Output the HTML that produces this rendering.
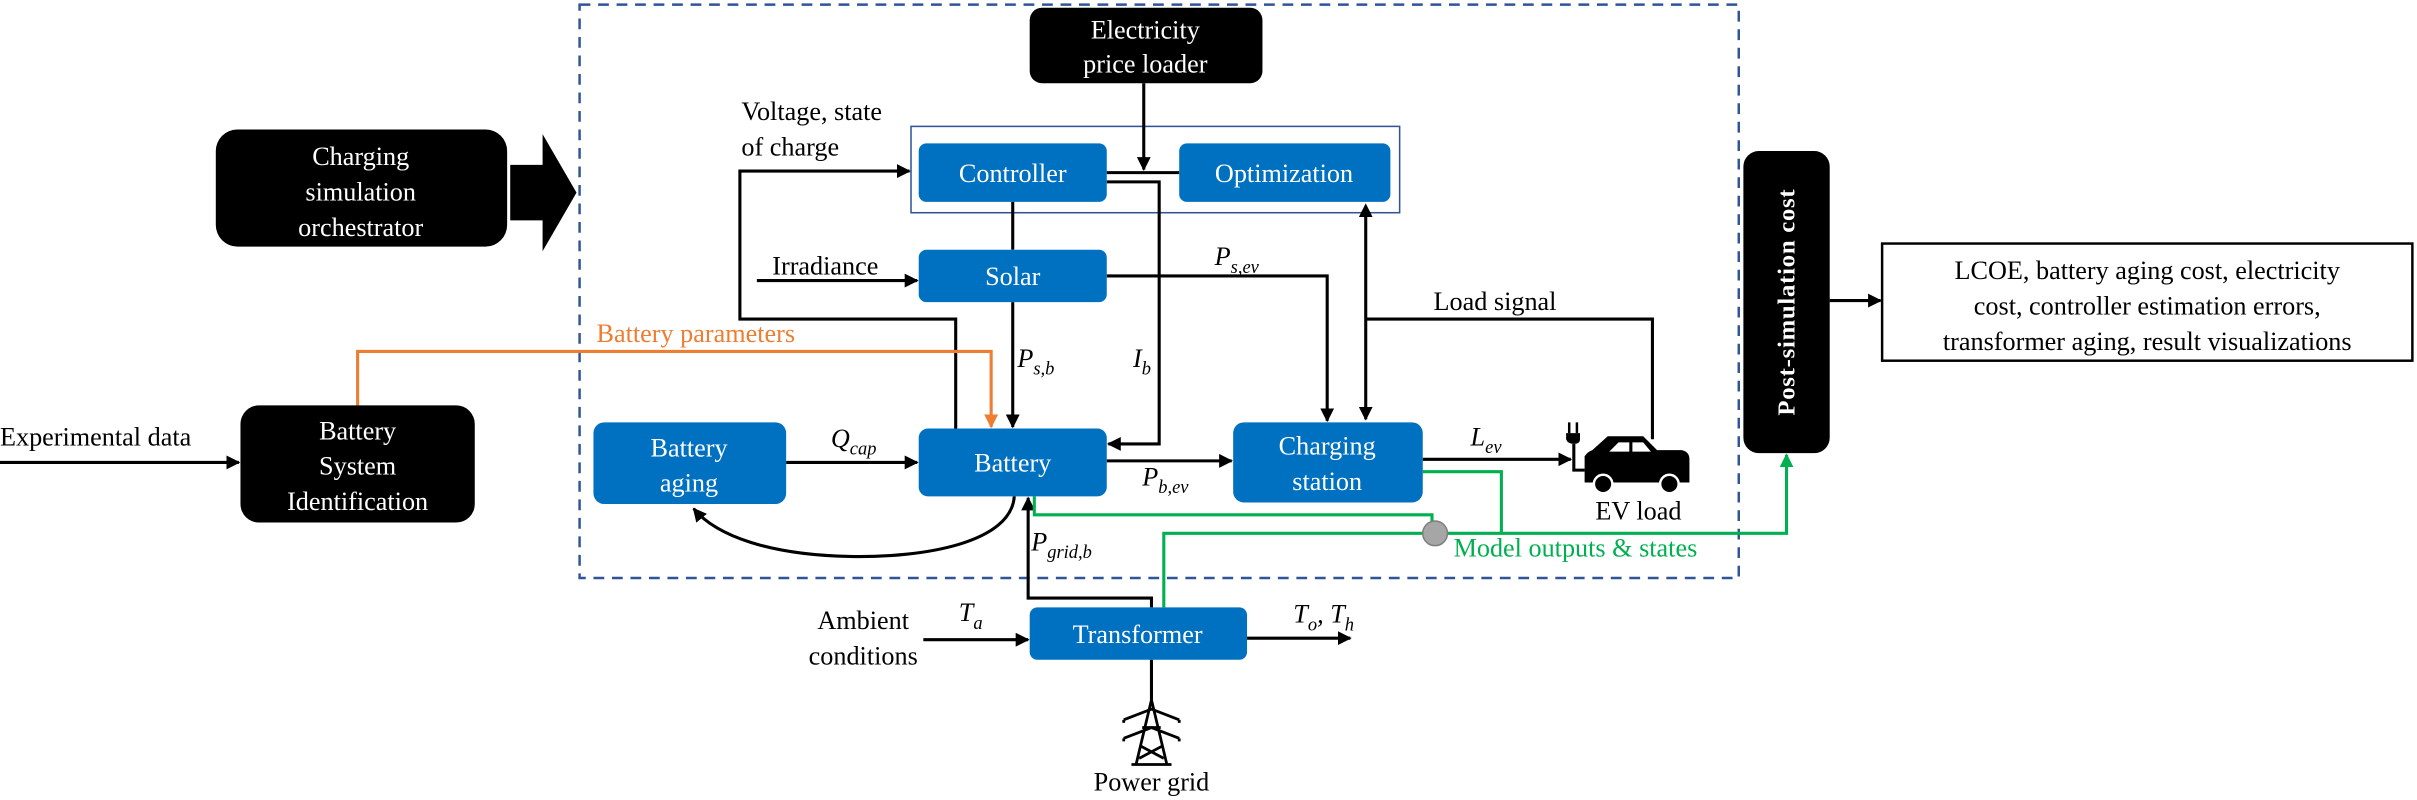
<!DOCTYPE html>
<html><head><meta charset="utf-8"><style>
html,body{margin:0;padding:0;background:#fff;}
svg{display:block;}
svg text{font-family:"Liberation Serif","Noto Serif CJK SC","DejaVu Serif",serif;}
</style></head><body>
<svg width="2417" height="800" viewBox="0 0 1568 519" preserveAspectRatio="none" xmlns="http://www.w3.org/2000/svg">
<defs>
<marker id="a" viewBox="0 0 10 10" refX="9" refY="5" markerWidth="9" markerHeight="9" markerUnits="userSpaceOnUse" orient="auto"><path d="M0,0L10,5L0,10z" fill="#000"/></marker>
<marker id="ao" viewBox="0 0 10 10" refX="9" refY="5" markerWidth="9" markerHeight="9" markerUnits="userSpaceOnUse" orient="auto"><path d="M0,0L10,5L0,10z" fill="#ED7D31"/></marker>
<marker id="ag" viewBox="0 0 10 10" refX="9" refY="5" markerWidth="9" markerHeight="9" markerUnits="userSpaceOnUse" orient="auto"><path d="M0,0L10,5L0,10z" fill="#00B050"/></marker>
<marker id="as" viewBox="0 0 10 10" refX="1" refY="5" markerWidth="9" markerHeight="9" markerUnits="userSpaceOnUse" orient="auto-start-reverse"><path d="M0,0L10,5L0,10z" fill="#000"/></marker>
</defs>
<rect x="376" y="3" width="752" height="372" fill="none" stroke="#2F5597" stroke-width="1.6" stroke-dasharray="7,5"/>
<rect x="591" y="82" width="317" height="56" fill="none" stroke="#2F5597" stroke-width="1"/>

<g stroke="#000" stroke-width="2" fill="none">
<path d="M742 54V110" marker-end="url(#a)"/>
<path d="M718 112H765"/>
<path d="M718 118H752V288H719" marker-end="url(#a)"/>
<path d="M657 131V162"/>
<path d="M657 196V277" marker-end="url(#a)"/>
<path d="M620 278V207H480V111H590" marker-end="url(#a)"/>
<path d="M491 182H595" marker-end="url(#a)"/>
<path d="M0 300H155" marker-end="url(#a)"/>
<path d="M510 300H595" marker-end="url(#a)"/>
<path d="M658 322C656 352 600 362 551 361C500 360 465 348 450 330" marker-end="url(#a)"/>
<path d="M747 394V388H667V323" marker-end="url(#a)"/>
<path d="M718 179H861V273" marker-end="url(#a)"/>
<path d="M886 140V272" marker-start="url(#as)" marker-end="url(#a)"/>
<path d="M886 207H1072V285"/>
<path d="M718 299H799" marker-end="url(#a)"/>
<path d="M923 298H1019" marker-end="url(#a)"/>
<path d="M1187 195H1220" marker-end="url(#a)"/>
<path d="M599 415H667" marker-end="url(#a)"/>
<path d="M809 414H876" marker-end="url(#a)"/>
<path d="M747 428V454"/>
</g>
<path d="M232 263V228H643V277" stroke="#ED7D31" stroke-width="2" fill="none" marker-end="url(#ao)"/>
<g stroke="#00B050" stroke-width="2" fill="none">
<path d="M671 322V334H929V342"/>
<path d="M755 394V346H1159V295" marker-end="url(#ag)"/>
<path d="M923 306H974V346"/>
</g>
<circle cx="931" cy="346" r="8" fill="#A6A6A6" stroke="#7F7F7F" stroke-width="1"/>

<rect x="668" y="5" width="151" height="49" rx="8" fill="#000"/>
<text x="743" y="25" font-size="17" fill="#fff" text-anchor="middle">Electricity</text>
<text x="743" y="47" font-size="17" fill="#fff" text-anchor="middle">price loader</text>
<rect x="140" y="84" width="189" height="76" rx="14" fill="#000"/>
<g font-size="17" fill="#fff" text-anchor="middle">
<text x="234" y="107">Charging</text>
<text x="234" y="130">simulation</text>
<text x="234" y="153">orchestrator</text>
</g>
<path d="M331 107H352V87L374 125L352 163V143H331Z" fill="#000"/>
<rect x="156" y="263" width="152" height="76" rx="12" fill="#000"/>
<g font-size="17" fill="#fff" text-anchor="middle">
<text x="232" y="285">Battery</text>
<text x="232" y="308">System</text>
<text x="232" y="331">Identification</text>
</g>
<rect x="1131" y="98" width="56" height="196" rx="10" fill="#000"/>
<text transform="translate(1164,196) rotate(-90)" font-size="16" font-weight="bold" fill="#fff" text-anchor="middle" letter-spacing="0.5">Post-simulation cost</text>
<rect x="1221" y="158" width="344" height="76" fill="#fff" stroke="#000" stroke-width="1.6"/>
<g font-size="17" text-anchor="middle">
<text x="1393" y="181">LCOE, battery aging cost, electricity</text>
<text x="1393" y="204">cost, controller estimation errors,</text>
<text x="1393" y="227">transformer aging, result visualizations</text>
</g>

<g fill="#0070C0">
<rect x="596" y="93" width="122" height="38" rx="5"/>
<rect x="765" y="93" width="137" height="38" rx="5"/>
<rect x="596" y="162" width="122" height="34" rx="5"/>
<rect x="596" y="278" width="122" height="44" rx="6"/>
<rect x="385" y="274" width="125" height="53" rx="7"/>
<rect x="800" y="274" width="123" height="52" rx="7"/>
<rect x="668" y="394" width="141" height="34" rx="5"/>
</g>
<g fill="#fff" font-size="17" text-anchor="middle">
<text x="657" y="118">Controller</text>
<text x="833" y="118">Optimization</text>
<text x="657" y="185">Solar</text>
<text x="657" y="306">Battery</text>
<text x="447" y="296">Battery</text>
<text x="447" y="319">aging</text>
<text x="861" y="295">Charging</text>
<text x="861" y="318">station</text>
<text x="738" y="417">Transformer</text>
</g>

<g font-size="17">
<text x="481" y="78">Voltage, state</text>
<text x="481" y="101">of charge</text>
<text x="501" y="178">Irradiance</text>
<text x="0" y="289">Experimental data</text>
<text x="387" y="222" fill="#ED7D31">Battery parameters</text>
<text x="930" y="201">Load signal</text>
<text x="1035" y="337">EV load</text>
<text x="943" y="361" fill="#00B050">Model outputs &amp; states</text>
<text x="560" y="408" text-anchor="middle">Ambient</text>
<text x="560" y="431" text-anchor="middle">conditions</text>
<text x="747" y="513" text-anchor="middle">Power grid</text>
</g>
<g font-size="17" font-style="italic">
<text x="660" y="238">P<tspan font-size="12" dy="5">s,b</tspan></text>
<text x="735" y="238">I<tspan font-size="12" dy="5">b</tspan></text>
<text x="788" y="172">P<tspan font-size="12" dy="5">s,ev</tspan></text>
<text x="539" y="290">Q<tspan font-size="12" dy="5">cap</tspan></text>
<text x="741" y="315">P<tspan font-size="12" dy="5">b,ev</tspan></text>
<text x="954" y="289">L<tspan font-size="12" dy="5">ev</tspan></text>
<text x="669" y="357">P<tspan font-size="12" dy="5">grid,b</tspan></text>
<text x="622" y="403">T<tspan font-size="12" dy="5">a</tspan></text>
<text x="839" y="404">T<tspan font-size="12" dy="5">o</tspan><tspan dy="-5">, T</tspan><tspan font-size="12" dy="5">h</tspan></text>
</g>

<g>
<path d="M1018 274V281M1023 274V281" stroke="#000" stroke-width="1.6"/>
<path d="M1016 281H1025V285Q1025 288 1021 288Q1017 288 1016 285Z" fill="#000"/>
<path d="M1021 288V305H1028" stroke="#000" stroke-width="2" fill="none"/>
<path d="M1028 302V296Q1030 293 1033 292L1043 283H1066L1075 292H1091Q1096 293 1096 298V313H1028Z" fill="#000"/>
<path d="M1044 293L1050 287H1057V293Z M1059 287H1066L1071 293H1059Z" fill="#fff"/>
<circle cx="1040" cy="314" r="6" fill="#000" stroke="#fff" stroke-width="1.6"/>
<circle cx="1083" cy="314" r="6" fill="#000" stroke="#fff" stroke-width="1.6"/>
</g>
<g stroke="#000" stroke-width="1.8" fill="none">
<path d="M747 454L737 496M747 454L757 496"/>
<path d="M729 467L747 460L765 467M729 467V469M765 467V469"/>
<path d="M729 479L747 472L765 479M729 479V481M765 479V481"/>
<path d="M741 472H753M740 484L755 492M754 484L739 492M734 496H760"/>
</g>
</svg>
</body></html>
